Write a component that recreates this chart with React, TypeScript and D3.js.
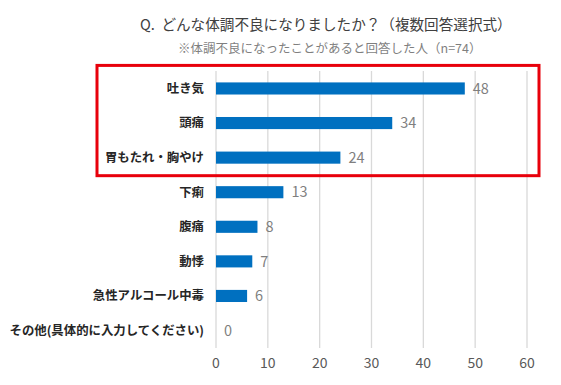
import React from "react";
import * as d3 from "d3";

const categories = [
  "吐き気",
  "頭痛",
  "胃もたれ・胸やけ",
  "下痢",
  "腹痛",
  "動悸",
  "急性アルコール中毒",
  "その他(具体的に入力してください)",
];
const values = [48, 34, 24, 13, 8, 7, 6, 0];
const ticks = [0, 10, 20, 30, 40, 50, 60];
const highlighted = ["吐き気", "頭痛", "胃もたれ・胸やけ"];

const title = "Q.  どんな体調不良になりましたか？（複数回答選択式）";
const subtitle = "※体調不良になったことがあると回答した人（n=74）";

const width = 561;
const height = 385;
const margin = { top: 71, right: 34, bottom: 37, left: 216 };
const font = "'Noto Sans CJK JP', 'Noto Sans', sans-serif";

export default function App() {
  const x = d3
    .scaleLinear()
    .domain([0, 60])
    .range([margin.left, width - margin.right]);

  const y = d3
    .scaleBand()
    .domain(categories)
    .range([margin.top, height - margin.bottom])
    .paddingInner(0.65)
    .paddingOuter(0.33);

  const hiTop = y(highlighted[0])! - 17;
  const hiBottom = y(highlighted[highlighted.length - 1])! + y.bandwidth() + 12;

  return (
    <svg
      width={width}
      height={height}
      style={{ position: "absolute", left: 0, top: 0, background: "#fff" }}
      fontFamily={font}
    >
      <text
        x={140}
        y={30}
        fontSize={14.6}
        fill="#404040"
        style={{ whiteSpace: "pre" }}
      >
        {title}
      </text>
      <text x={178} y={53} fontSize={12.5} fill="#7f7f7f">
        {subtitle}
      </text>

      {ticks.map((t) => (
        <g key={t}>
          <line
            x1={x(t)}
            x2={x(t)}
            y1={margin.top}
            y2={height - margin.bottom}
            stroke="#d9d9d9"
            strokeWidth={1.3}
          />
          <text
            x={x(t)}
            y={368}
            fontSize={14}
            fill="#595959"
            textAnchor="middle"
          >
            {t}
          </text>
        </g>
      ))}

      {categories.map((c, i) => {
        const cy = y(c)! + y.bandwidth() / 2;
        return (
          <g key={c}>
            <rect
              x={x(0)}
              y={y(c)}
              width={x(values[i]) - x(0)}
              height={y.bandwidth()}
              fill="#0070c0"
            />
            <text
              x={204}
              y={cy}
              dy="0.35em"
              fontSize={12.4}
              fontWeight="bold"
              fill="#262626"
              textAnchor="end"
            >
              {c}
            </text>
            <text
              x={x(values[i]) + 8}
              y={cy}
              dy="0.36em"
              fontSize={14.5}
              fill="#7f7f7f"
            >
              {values[i]}
            </text>
          </g>
        );
      })}

      <rect
        x={97}
        y={hiTop}
        width={442}
        height={hiBottom - hiTop}
        fill="none"
        stroke="#e8000b"
        strokeWidth={3}
      />
    </svg>
  );
}
